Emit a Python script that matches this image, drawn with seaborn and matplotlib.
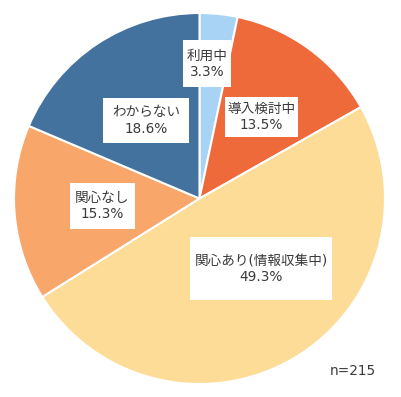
import matplotlib
matplotlib.use("Agg")
import matplotlib.pyplot as plt
from matplotlib.patches import Rectangle
import seaborn as sns

labels = ["利用中", "導入検討中", "関心あり(情報収集中)", "関心なし", "わからない"]
values = [3.3, 13.5, 49.3, 15.3, 18.6]
colors = ["#a9d3f5", "#ef6a3b", "#fddc98", "#f9a66a", "#43729f"]

# label boxes in pixel coords of the 401x397 image: (left, top, right, bottom)
boxes_px = [(183, 40, 231, 87), (225, 97, 298, 137), (190, 237, 332, 300),
            (70, 183, 135, 229), (103, 98, 189, 143)]

sns.set_theme(style="white")
plt.rcParams["font.family"] = ["DejaVu Sans", "Noto Sans CJK JP"]

W, H = 401, 397
cx, cy, r = 199.5, 198.5, 185.5
fig = plt.figure(figsize=(W / 100, H / 100), dpi=100)
ax = fig.add_axes([(cx - r) / W, (H - cy - r) / H, 2 * r / W, 2 * r / H])

ax.pie(values, colors=colors, startangle=90, counterclock=False,
       wedgeprops={"edgecolor": "white", "linewidth": 1.5})
ax.set_xlim(-1, 1)
ax.set_ylim(-1, 1)
ax.set_aspect("auto")
ax.axis("off")

for lab, v, (x0, y0, x1, y1) in zip(labels, values, boxes_px):
    ax.add_patch(Rectangle(((x0 - cx) / r, (cy - y1) / r), (x1 - x0) / r, (y1 - y0) / r,
                           fc="white", ec="none", zorder=3))
    ax.text(((x0 + x1) / 2 - cx) / r, (cy - (y0 + y1) / 2) / r, f"{lab}\n{v:.1f}%",
            ha="center", va="center", fontsize=9.8, color="#3a3a3a",
            linespacing=1.2, zorder=4)

fig.text(353 / W, 1 - 371 / H, "n=215", ha="center", va="center",
         fontsize=9.8, color="#3a3a3a")

fig.savefig("out.png", dpi=100)
